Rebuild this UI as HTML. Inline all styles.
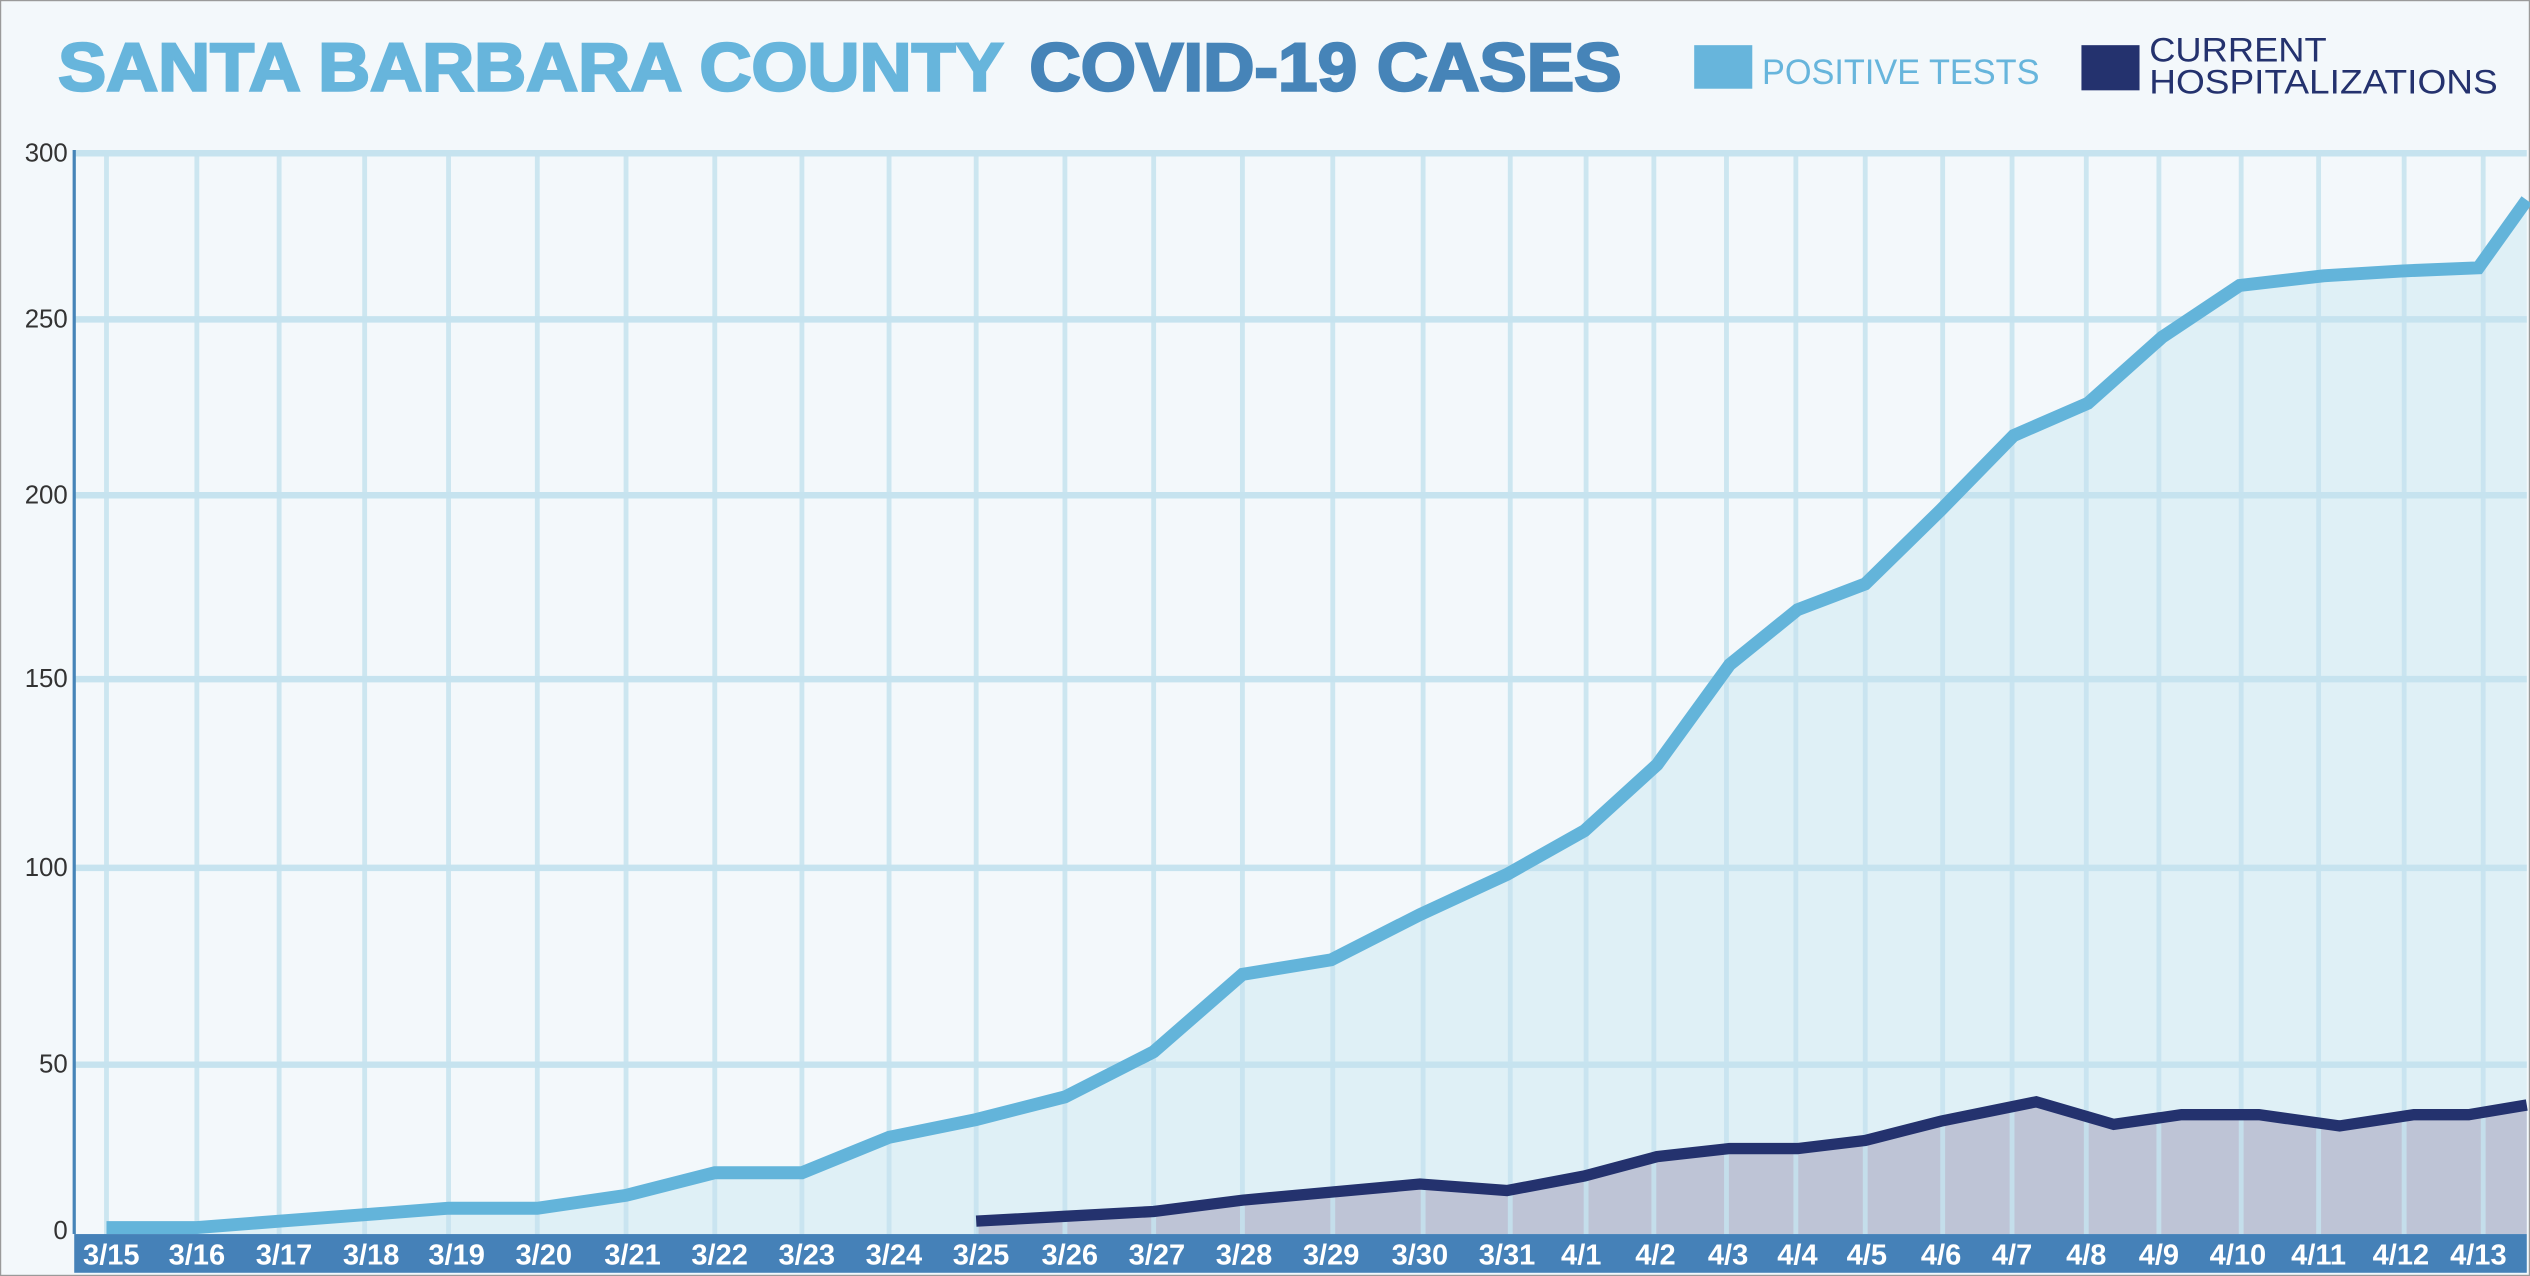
<!DOCTYPE html>
<html><head><meta charset="utf-8"><style>
html,body{margin:0;padding:0;background:#f3f8fb;}
svg{display:block}
</style></head><body>
<svg width="2530" height="1276" viewBox="0 0 1568 791" preserveAspectRatio="none" xmlns="http://www.w3.org/2000/svg">
<rect x="0" y="0" width="1568" height="791" fill="#f3f8fb" stroke="#9a9a9a" stroke-width="1.5"/>
<!-- title -->
<text x="36" y="56" font-family="Liberation Sans, sans-serif" font-weight="bold" font-size="42" fill="#67b5dc" stroke="#67b5dc" stroke-width="1.5" textLength="586" lengthAdjust="spacingAndGlyphs">SANTA BARBARA COUNTY</text>
<text x="638" y="56" font-family="Liberation Sans, sans-serif" font-weight="bold" font-size="42" fill="#4684b8" stroke="#4684b8" stroke-width="1.5" textLength="367" lengthAdjust="spacingAndGlyphs">COVID-19 CASES</text>
<!-- legend -->
<rect x="1050" y="28" width="36" height="27" fill="#67b5dc"/>
<text x="1092" y="52" font-family="Liberation Sans, sans-serif" font-size="22" fill="#67b5dc" textLength="172" lengthAdjust="spacingAndGlyphs">POSITIVE TESTS</text>
<rect x="1290" y="28" width="36" height="28" fill="#24326e"/>
<text x="1332" y="38" font-family="Liberation Sans, sans-serif" font-size="21" fill="#24326e" textLength="110" lengthAdjust="spacingAndGlyphs">CURRENT</text>
<text x="1332" y="58" font-family="Liberation Sans, sans-serif" font-size="21" fill="#24326e" textLength="216" lengthAdjust="spacingAndGlyphs">HOSPITALIZATIONS</text>
<!-- fills -->
<polygon fill="#dff0f6" points="66,765 66,761 122,761 173,757 226,753 278,749 333,749 388,741 443,727 497,727 551,705 605,694 660,680 715,652 770,604 825,595 880,567 934,542 982,515 1027,474 1072,412 1114,378 1156,362 1203,316 1248,270 1294,250 1340,209 1388,177 1440,171 1488,168 1536,166 1566,124 1566,765"/>
<polygon fill="#bec4d6" points="605,765 605,757 660,754 715,751 770,744 825,739 880,734 934,738 982,729 1027,717 1072,712 1114,712 1156,707 1203,695 1262,683 1310,697 1352,691 1400,691 1450,698 1496,691 1530,691 1566,685 1566,765"/>
<!-- grid -->
<g stroke="#c6e3ef" stroke-width="3" opacity="0.85">
<line x1="66" y1="95" x2="66" y2="765"/><line x1="122" y1="95" x2="122" y2="765"/><line x1="173" y1="95" x2="173" y2="765"/><line x1="226" y1="95" x2="226" y2="765"/><line x1="278" y1="95" x2="278" y2="765"/><line x1="333" y1="95" x2="333" y2="765"/><line x1="388" y1="95" x2="388" y2="765"/><line x1="443" y1="95" x2="443" y2="765"/><line x1="497" y1="95" x2="497" y2="765"/><line x1="551" y1="95" x2="551" y2="765"/><line x1="605" y1="95" x2="605" y2="765"/><line x1="660" y1="95" x2="660" y2="765"/><line x1="715" y1="95" x2="715" y2="765"/><line x1="770" y1="95" x2="770" y2="765"/><line x1="826" y1="95" x2="826" y2="765"/><line x1="882" y1="95" x2="882" y2="765"/><line x1="936" y1="95" x2="936" y2="765"/><line x1="983" y1="95" x2="983" y2="765"/><line x1="1025" y1="95" x2="1025" y2="765"/><line x1="1070" y1="95" x2="1070" y2="765"/><line x1="1113" y1="95" x2="1113" y2="765"/><line x1="1156" y1="95" x2="1156" y2="765"/><line x1="1204" y1="95" x2="1204" y2="765"/><line x1="1247" y1="95" x2="1247" y2="765"/><line x1="1293" y1="95" x2="1293" y2="765"/><line x1="1338" y1="95" x2="1338" y2="765"/><line x1="1389" y1="95" x2="1389" y2="765"/><line x1="1437" y1="95" x2="1437" y2="765"/><line x1="1490" y1="95" x2="1490" y2="765"/><line x1="1539" y1="95" x2="1539" y2="765"/>
</g>
<g stroke="#c6e3ef" stroke-width="4">
<line x1="46" y1="95" x2="1566" y2="95"/><line x1="46" y1="198" x2="1566" y2="198"/><line x1="46" y1="307" x2="1566" y2="307"/><line x1="46" y1="421" x2="1566" y2="421"/><line x1="46" y1="538" x2="1566" y2="538"/><line x1="46" y1="660" x2="1566" y2="660"/>
</g>
<line x1="46" y1="93" x2="46" y2="765" stroke="#4684b8" stroke-width="2"/>
<!-- lines -->
<polyline fill="none" stroke="#63b4da" stroke-width="8" points="66,761 122,761 173,757 226,753 278,749 333,749 388,741 443,727 497,727 551,705 605,694 660,680 715,652 770,604 825,595 880,567 934,542 982,515 1027,474 1072,412 1114,378 1156,362 1203,316 1248,270 1294,250 1340,209 1388,177 1440,171 1488,168 1536,166 1566,124"/>
<polyline fill="none" stroke="#24326e" stroke-width="7" points="605,757 660,754 715,751 770,744 825,739 880,734 934,738 982,729 1027,717 1072,712 1114,712 1156,707 1203,695 1262,683 1310,697 1352,691 1400,691 1450,698 1496,691 1530,691 1566,685"/>
<!-- y labels -->
<g font-family="Liberation Sans Narrow, Liberation Sans, sans-serif" font-size="16" fill="#333" text-anchor="end">
<text x="42" y="100">300</text><text x="42" y="203">250</text><text x="42" y="312">200</text><text x="42" y="426">150</text><text x="42" y="543">100</text><text x="42" y="665">50</text><text x="42" y="768">0</text>
</g>
<!-- x axis bar -->
<rect x="46" y="765" width="1520" height="24" fill="#4581b8"/>
<g font-family="Liberation Sans Narrow, Liberation Sans, sans-serif" font-weight="bold" font-size="18" fill="#ffffff" text-anchor="middle">
<text x="69" y="784">3/15</text><text x="122" y="784">3/16</text><text x="176" y="784">3/17</text><text x="230" y="784">3/18</text><text x="283" y="784">3/19</text><text x="337" y="784">3/20</text><text x="392" y="784">3/21</text><text x="446" y="784">3/22</text><text x="500" y="784">3/23</text><text x="554" y="784">3/24</text><text x="608" y="784">3/25</text><text x="663" y="784">3/26</text><text x="717" y="784">3/27</text><text x="771" y="784">3/28</text><text x="825" y="784">3/29</text><text x="880" y="784">3/30</text><text x="934" y="784">3/31</text><text x="980" y="784">4/1</text><text x="1026" y="784">4/2</text><text x="1071" y="784">4/3</text><text x="1114" y="784">4/4</text><text x="1157" y="784">4/5</text><text x="1203" y="784">4/6</text><text x="1247" y="784">4/7</text><text x="1293" y="784">4/8</text><text x="1338" y="784">4/9</text><text x="1387" y="784">4/10</text><text x="1437" y="784">4/11</text><text x="1488" y="784">4/12</text><text x="1536" y="784">4/13</text>
</g>
</svg>
</body></html>
